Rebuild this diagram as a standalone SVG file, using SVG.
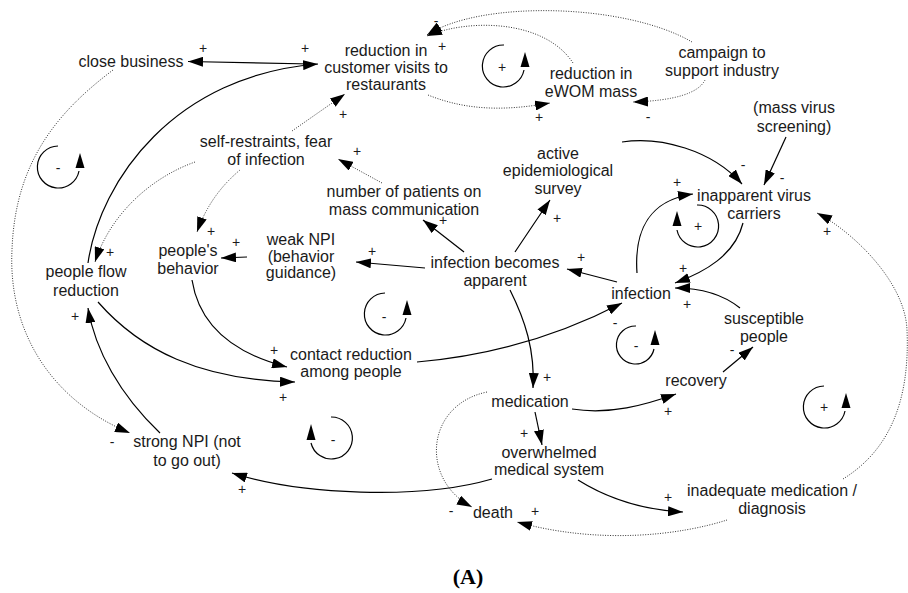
<svg xmlns="http://www.w3.org/2000/svg" width="908" height="593" viewBox="0 0 908 593">
<defs>
<marker id="ah" markerWidth="15" markerHeight="10" refX="15" refY="5" orient="auto" markerUnits="userSpaceOnUse"><path d="M0,0 L15,5 L0,10 z" fill="#000"/></marker>
<style>
.n{font-family:"Liberation Sans",Arial,sans-serif;font-size:16px;fill:#1a1a1a;text-anchor:middle}
.p{font-family:"Liberation Sans",Arial,sans-serif;font-size:14px;fill:#1a1a1a;text-anchor:middle}
.s{fill:none;stroke:#000;stroke-width:1.2;marker-end:url(#ah)}
.d{fill:none;stroke:#333;stroke-width:1;stroke-dasharray:1 1.5;marker-end:url(#ah)}
.lp{fill:none;stroke:#000;stroke-width:1.2}
.cap{font-family:"Liberation Serif","Times New Roman",serif;font-size:22px;font-weight:bold;fill:#000;text-anchor:middle}
</style>
</defs>
<rect width="908" height="593" fill="#fff"/>
<g id="connectors">
<path class="s" d="M312,64 L188,61.5"/>
<path class="s" d="M88,263 C100,180 175,75 318,64"/>
<path class="d" d="M292,131 L345,94"/>
<path class="d" d="M382,183 L338,159"/>
<path class="d" d="M240,170 Q210,195 197,232"/>
<path class="d" d="M195,162 C150,178 110,215 95,262"/>
<path class="d" d="M428,95 C470,112 510,110 550,103"/>
<path class="d" d="M573,63 C545,20 470,18 427,36"/>
<path class="d" d="M692,42 C625,3 480,0 427,35"/>
<path class="d" d="M705,80 Q695,100 633,102"/>
<path class="s" d="M622,142 C660,136 712,150 742,184"/>
<path class="s" d="M786,137 L764,185"/>
<path class="s" d="M515,252 Q535,222 550,200"/>
<path class="s" d="M464,252 L423,220"/>
<path class="s" d="M425,268 L356,262"/>
<path class="s" d="M247,257 L221,258"/>
<path class="s" d="M510,290 C525,320 535,350 533,388"/>
<path class="s" d="M617,282 L567,269"/>
<path class="s" d="M637,273 C634,230 650,200 693,194"/>
<path class="s" d="M743,223 C735,255 705,272 675,283"/>
<path class="s" d="M740,308 Q715,288 675,288"/>
<path class="s" d="M417,362 C500,355 570,330 622,303"/>
<path class="s" d="M723,372 L753,347"/>
<path class="s" d="M572,409 C610,415 645,405 676,394"/>
<path class="s" d="M535,412 L542,445"/>
<path class="s" d="M492,479 C420,500 300,495 232,473"/>
<path class="s" d="M578,480 C610,500 645,510 683,512"/>
<path class="d" d="M487,392 C425,405 420,480 472,507"/>
<path class="d" d="M727,520 C680,535 600,545 517,522"/>
<path class="d" d="M843,479 C890,450 910,400 907,330 C905,280 850,230 817,213"/>
<path class="s" d="M98,302 C140,350 200,380 295,382"/>
<path class="s" d="M192,280 C200,330 240,355 287,367"/>
<path class="d" d="M113,70 C60,110 15,160 12,250 C8,330 50,400 130,433"/>
<path class="s" d="M160,433 C120,395 95,350 88,308"/>
</g>
<g id="polarities">
<text class="p" x="203" y="53">+</text>
<text class="p" x="305" y="53">+</text>
<text class="p" x="442" y="51">+</text>
<text class="p" x="436" y="26">-</text>
<text class="p" x="343" y="119">+</text>
<text class="p" x="357" y="156">+</text>
<text class="p" x="539" y="122">+</text>
<text class="p" x="648" y="122">-</text>
<text class="p" x="743" y="170">-</text>
<text class="p" x="782" y="183">-</text>
<text class="p" x="677" y="187">+</text>
<text class="p" x="557" y="223">+</text>
<text class="p" x="443" y="225">+</text>
<text class="p" x="372" y="256">+</text>
<text class="p" x="236" y="247">+</text>
<text class="p" x="211" y="236">+</text>
<text class="p" x="110" y="257">+</text>
<text class="p" x="75" y="321">+</text>
<text class="p" x="581" y="262">+</text>
<text class="p" x="683" y="273">+</text>
<text class="p" x="687" y="309">+</text>
<text class="p" x="615" y="328">-</text>
<text class="p" x="732" y="355">-</text>
<text class="p" x="274" y="355">+</text>
<text class="p" x="283" y="402">+</text>
<text class="p" x="547" y="382">+</text>
<text class="p" x="668" y="416">+</text>
<text class="p" x="524" y="438">+</text>
<text class="p" x="242" y="494">+</text>
<text class="p" x="668" y="502">+</text>
<text class="p" x="451" y="516">-</text>
<text class="p" x="535" y="516">+</text>
<text class="p" x="112" y="447">-</text>
<text class="p" x="827" y="236">+</text>
</g>
<g id="loops">
<g id="loop1"><path class="lp" d="M58,146 A21,21 0 1 0 79,171"/><polygon points="75.5,168 84.5,168 80,153"/><text class="p" x="58" y="173">-</text></g>
<g id="loop2"><path class="lp" d="M504,45 A21,21 0 1 0 524,70"/><polygon points="520.5,67 529.5,67 525,52"/><text class="p" x="502" y="72">+</text></g>
<g id="loop3"><path class="lp" d="M697,205 A21,21 0 1 1 677,230"/><polygon points="672.5,226 681.5,226 677,211"/><text class="p" x="698" y="231">+</text></g>
<g id="loop4"><path class="lp" d="M385,293 A21,21 0 1 0 406,318"/><polygon points="402.5,315 411.5,315 407,300"/><text class="p" x="384" y="322">-</text></g>
<g id="loop5"><path class="lp" d="M636,326 A19,19 0 1 0 654,349"/><polygon points="650.5,345 659.5,345 655,330"/><text class="p" x="636" y="351">-</text></g>
<g id="loop6"><path class="lp" d="M331,417 A21,21 0 1 1 311,443"/><polygon points="306.5,440 315.5,440 311,424"/><text class="p" x="333" y="445">-</text></g>
<g id="loop7"><path class="lp" d="M824,386 A21,21 0 1 0 845,411"/><polygon points="841.5,408 850.5,408 846,393"/><text class="p" x="824" y="412">+</text></g>
</g>
<g id="n-close-business"><text class="n" x="131" y="66.5">close business</text></g>
<g id="n-reduction-visits"><text class="n" x="386" y="56">reduction in<tspan x="386" dy="17">customer visits to</tspan><tspan x="386" dy="17">restaurants</tspan></text></g>
<g id="n-ewom"><text class="n" x="591" y="79">reduction in<tspan x="591" dy="18">eWOM mass</tspan></text></g>
<g id="n-campaign"><text class="n" x="722" y="58">campaign to<tspan x="722" dy="18">support industry</tspan></text></g>
<g id="n-mass-screening"><text class="n" x="794" y="113">(mass virus<tspan x="794" dy="19">screening)</tspan></text></g>
<g id="n-active-survey"><text class="n" x="558" y="158.5">active<tspan x="558" dy="17.5">epidemiological</tspan><tspan x="558" dy="17.5">survey</tspan></text></g>
<g id="n-inapparent"><text class="n" x="754" y="201">inapparent virus<tspan x="754" dy="18">carriers</tspan></text></g>
<g id="n-self-restraints"><text class="n" x="266" y="147">self-restraints, fear<tspan x="266" dy="18">of infection</tspan></text></g>
<g id="n-number-patients"><text class="n" x="404" y="197">number of patients on<tspan x="404" dy="18">mass communication</tspan></text></g>
<g id="n-weak-npi"><text class="n" x="301" y="245">weak NPI<tspan x="301" dy="16.5">(behavior</tspan><tspan x="301" dy="16.5">guidance)</tspan></text></g>
<g id="n-peoples-behavior"><text class="n" x="188" y="256">people's<tspan x="188" dy="18">behavior</tspan></text></g>
<g id="n-people-flow"><text class="n" x="86" y="277">people flow<tspan x="86" dy="19">reduction</tspan></text></g>
<g id="n-infection-apparent"><text class="n" x="495" y="268">infection becomes<tspan x="495" dy="17.5">apparent</tspan></text></g>
<g id="n-infection"><text class="n" x="641" y="299">infection</text></g>
<g id="n-susceptible"><text class="n" x="764" y="323.5">susceptible<tspan x="764" dy="18">people</tspan></text></g>
<g id="n-contact-reduction"><text class="n" x="351" y="359.5">contact reduction<tspan x="351" dy="17.5">among people</tspan></text></g>
<g id="n-recovery"><text class="n" x="696" y="386">recovery</text></g>
<g id="n-medication"><text class="n" x="530" y="406.5">medication</text></g>
<g id="n-overwhelmed"><text class="n" x="549" y="458">overwhelmed<tspan x="549" dy="17">medical system</tspan></text></g>
<g id="n-strong-npi"><text class="n" x="187" y="447">strong NPI (not<tspan x="187" dy="19">to go out)</tspan></text></g>
<g id="n-death"><text class="n" x="493" y="518">death</text></g>
<g id="n-inadequate"><text class="n" x="772" y="496">inadequate medication /<tspan x="772" dy="18">diagnosis</tspan></text></g>
<text class="cap" x="468" y="584">(A)</text>
</svg>
